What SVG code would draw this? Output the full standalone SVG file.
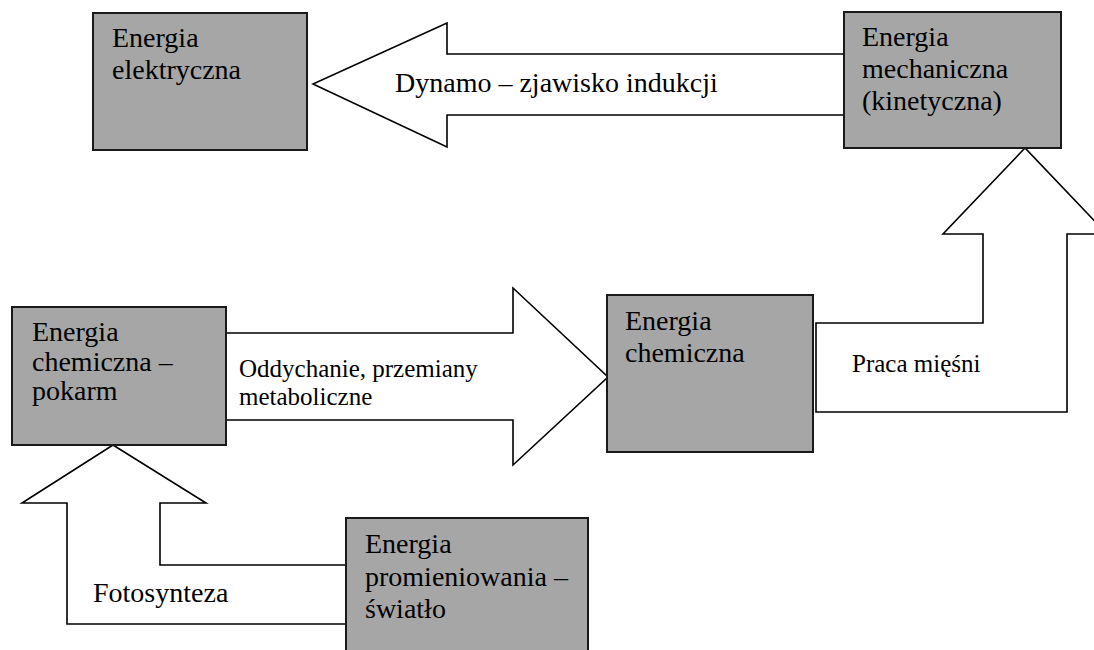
<svg xmlns="http://www.w3.org/2000/svg" width="1094" height="650" viewBox="0 0 1094 650">
<style>
.box{fill:#a6a6a6;stroke:#1a1a1a;stroke-width:2}
.arrow{fill:#ffffff;stroke:#000000;stroke-width:1.6;stroke-linejoin:miter}
.t{font-family:"Liberation Serif","Times New Roman",serif;font-size:28px;fill:#000}
.s{font-family:"Liberation Serif","Times New Roman",serif;font-size:25px;fill:#000}
</style>
<rect width="1094" height="650" fill="#ffffff"/>
<g id="connectors">
<polygon class="arrow" points="844,54 447,54 447,23 313,84 447,147 447,115 844,115"/>
<text class="t" x="395" y="92">Dynamo – zjawisko indukcji</text>
<polygon class="arrow" points="816,323 983,323 983,234 943,234 1025,148 1107,234 1067,234 1067,412 816,412"/>
<text class="s" x="852" y="372">Praca mięśni</text>
<polygon class="arrow" points="226,333 513,333 513,288 608,377 513,465 513,420 226,420"/>
<text class="s" x="239" y="377">Oddychanie, przemiany</text>
<text class="s" x="239" y="405">metaboliczne</text>
<polygon class="arrow" points="346,565 160,565 160,503 206,503 113,445 22,503 67,503 67,624 346,624"/>
<text class="t" x="93" y="602">Fotosynteza</text>
</g>
<g id="elektryczna">
<rect class="box" x="93" y="13" width="214" height="137"/>
<text class="t" x="112" y="47">Energia</text>
<text class="t" x="112" y="79">elektryczna</text>
</g>
<g id="mechaniczna">
<rect class="box" x="844" y="12" width="217" height="136"/>
<text class="t" x="862" y="46">Energia</text>
<text class="t" x="862" y="78">mechaniczna</text>
<text class="t" x="862" y="110">(kinetyczna)</text>
</g>
<g id="pokarm">
<rect class="box" x="12" y="307" width="214" height="138"/>
<text class="t" x="32" y="341">Energia</text>
<text class="t" x="32" y="371">chemiczna –</text>
<text class="t" x="32" y="400">pokarm</text>
</g>
<g id="chemiczna">
<rect class="box" x="607" y="295" width="206" height="157"/>
<text class="t" x="625" y="330">Energia</text>
<text class="t" x="625" y="362">chemiczna</text>
</g>
<g id="promieniowanie">
<rect class="box" x="346" y="518" width="242" height="140"/>
<text class="t" x="365" y="553">Energia</text>
<text class="t" x="365" y="586">promieniowania –</text>
<text class="t" x="365" y="618">światło</text>
</g>
</svg>
